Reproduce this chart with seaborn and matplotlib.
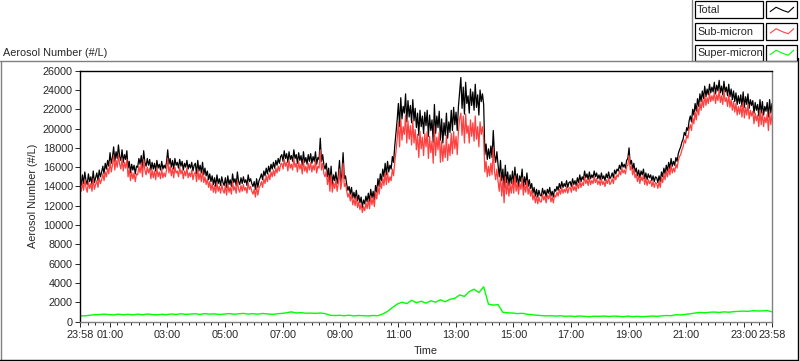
import pandas as pd
import matplotlib
matplotlib.use("Agg")
import matplotlib.pyplot as plt
import matplotlib.dates as mdates
from matplotlib.patches import Rectangle
from matplotlib.lines import Line2D
import seaborn as sns

# Aerosol counts over one day
# total / sub-micron at 2.5-min steps, one row per hour starting 23:58
start = pd.Timestamp("2012-07-01 23:58")
end = pd.Timestamp("2012-07-02 23:58")

total = [
    14700, 14100, 15200, 14300, 15500, 14600, 14200, 15300, 14500, 15000, 14200, 15600, 14400, 14900, 15400, 14600, 15700, 15000, 15500, 16100, 15300, 16400, 15800, 16700,
    16100, 17500, 16400, 17000, 18100, 16600, 17600, 16900, 18300, 17100, 16700, 17800, 16500, 17300, 16800, 17700, 15900, 16600, 15400, 16300, 15700, 16200, 15300, 16100,
    16000, 16900, 16300, 17200, 15900, 17700, 16500, 16100, 16900, 16200, 16800, 15700, 16500, 15800, 16400, 15600, 16700, 15900, 16300, 15700, 16600, 15800, 16200, 15900,
    16500, 17800, 16300, 16900, 16000, 16700, 15800, 16900, 16200, 16500, 15900, 16800, 16100, 16600, 15700, 16400, 16000, 16700, 15800, 16300, 15900, 16500, 15600, 16200,
    16400, 15300, 16700, 15600, 16200, 15400, 16500, 15200, 15900, 15100, 15600, 14700, 15300, 14500, 15100, 14200, 14900, 14000, 15200, 14300, 14800, 14100, 15000, 14400,
    14100, 14900, 13900, 15100, 14200, 14700, 14000, 15300, 14400, 14800, 14100, 15500, 14500, 14200, 14900, 14300, 15000, 14400, 14700, 14100, 15200, 14500, 14800, 14300,
    14000, 14500, 13700, 14800, 13900, 14600, 14900, 15300, 14700, 15600, 15100, 15900, 15300, 16100, 15500, 16300, 15800, 16500, 15900, 16700, 16200, 16900, 16400, 17100,
    17300, 16600, 17700, 16900, 17400, 16500, 17600, 16800, 17200, 16600, 17800, 16900, 17300, 16400, 17500, 16700, 17200, 16200, 17600, 16500, 17000, 16300, 17300, 16600,
    17400, 16400, 17100, 16600, 17600, 16300, 17000, 16800, 19000, 16600, 17300, 16200, 15800, 16400, 15000, 15900, 14300, 16100, 14200, 15200, 14600, 15500, 14300, 15100,
    16700, 14500, 15300, 17500, 14800, 15100, 14200, 13600, 14000, 13200, 13900, 12800, 13400, 12700, 13600, 12500, 13100, 12300, 12900, 11800, 12600, 12200, 13000, 12400,
    13300, 12400, 13700, 12800, 13500, 12600, 14100, 13400, 14800, 14000, 15300, 14600, 15800, 15000, 16400, 15200, 16600, 15500, 16200, 15800, 17100, 16500, 18200, 19500,
    20900, 22600, 20200, 23200, 21000, 22300, 21600, 23600, 20700, 22900, 21200, 22400, 20600, 23000, 20800, 22100, 20100, 21600, 19300, 21900, 20200, 21300, 19500, 21700,
    20300, 21900, 19200, 21400, 19800, 20900, 18600, 22500, 19500, 21300, 20100, 21800, 18800, 21000, 18500, 20600, 19300, 21600, 19000, 20700, 19600, 21900, 19800, 22200,
    20400, 21700, 19800, 22300, 23800, 25300, 22100, 24300, 21500, 24800, 22600, 23400, 21600, 24100, 22400, 23800, 21900, 24600, 22200, 23500, 21400, 24000, 22800, 23600,
    22500, 17300, 18400, 16800, 17900, 16900, 18200, 17000, 19800, 17300, 16500, 17600, 16200, 15000, 16700, 14600, 15800, 13900, 16200, 14400, 15500, 14100, 15200, 14300,
    15600, 14200, 16000, 14400, 15300, 14000, 15100, 14500, 15800, 13900, 15000, 14200, 15400, 14000, 14700, 13800, 14300, 13300, 13900, 13000, 13700, 12900, 13600, 13100,
    13000, 13800, 13200, 13600, 12900, 13700, 13300, 13900, 13000, 13500, 12900, 13700, 13500, 14000, 13600, 14300, 13800, 14500, 13900, 14300, 14000, 14600, 13900, 14400,
    14500, 14000, 14800, 14200, 14600, 14100, 14900, 14400, 15200, 14500, 15000, 14700, 15600, 14900, 15300, 14700, 15500, 14800, 15200, 14900, 15600, 15000, 15400, 14800,
    15200, 14700, 15400, 14800, 15100, 14600, 15300, 14900, 15500, 14800, 15000, 15400, 14900, 15700, 15300, 15800, 15600, 16200, 15800, 16500, 16000, 16300, 15900, 16700,
    16900, 18000, 16300, 16700, 15800, 16400, 15500, 15900, 15100, 15700, 14900, 15600, 15200, 15800, 14800, 15400, 14700, 15300, 14900, 15200, 14600, 15100, 14500, 15000,
    14900, 14400, 15100, 14500, 15500, 15000, 15900, 15300, 16200, 15600, 16500, 15800, 16900, 16100, 16600, 16200, 17000, 16600, 17400, 17800, 18100, 18600, 18900, 19600,
    19300, 20100, 19800, 20800, 21300, 20700, 22000, 21400, 22600, 21800, 23100, 22300, 23600, 22800, 23900, 23100, 24400, 23300, 24100, 23500, 24600, 23700, 24300, 23800,
    24800, 23600, 24500, 23900, 25000, 23700, 24400, 23500, 24900, 23800, 24300, 23400, 24600, 23300, 24100, 23000, 23900, 22800, 23700, 22500, 23400, 22600, 23500, 22300,
    23800, 22200, 23300, 22500, 23600, 22100, 23000, 22400, 22900, 21600, 22700, 21900, 22500, 21300, 23000, 21600, 22800, 21400, 22300, 21800, 22700, 21200, 23000, 21600,
    22600,
]

sub_micron = [
    14000, 13500, 14400, 13600, 14700, 13900, 13400, 14500, 13800, 14300, 13500, 14800, 13700, 14200, 14600, 13900, 14900, 14300, 14700, 15300, 14600, 15500, 15000, 15900,
    15300, 16600, 15500, 16200, 17200, 15700, 16700, 16000, 17300, 16300, 15800, 16900, 15600, 16500, 15900, 16800, 15000, 15800, 14600, 15500, 14800, 15400, 14500, 15300,
    15200, 16100, 15400, 16400, 15000, 16800, 15700, 15200, 16000, 15400, 15900, 14800, 15700, 14900, 15600, 14700, 15900, 15000, 15500, 14800, 15800, 14900, 15400, 15000,
    15700, 16900, 15400, 16100, 15100, 15900, 14900, 16000, 15400, 15600, 15000, 16000, 15300, 15700, 14800, 15600, 15100, 15900, 14900, 15400, 15000, 15700, 14700, 15300,
    15500, 14500, 15800, 14700, 15400, 14500, 15600, 14400, 15000, 14200, 14800, 13900, 14500, 13600, 14300, 13400, 14100, 13300, 14400, 13500, 14000, 13300, 14200, 13600,
    13300, 14100, 13100, 14300, 13400, 13900, 13200, 14500, 13600, 14000, 13300, 14600, 13700, 13400, 14100, 13500, 14200, 13600, 13900, 13300, 14400, 13700, 14000, 13500,
    13200, 13700, 12900, 14000, 13100, 13800, 14100, 14500, 13900, 14800, 14300, 15100, 14500, 15300, 14700, 15500, 15000, 15700, 15100, 15900, 15400, 16100, 15600, 16300,
    16400, 15800, 16800, 16100, 16500, 15600, 16700, 15900, 16300, 15700, 16900, 16000, 16400, 15500, 16600, 15800, 16300, 15300, 16700, 15600, 16100, 15400, 16400, 15700,
    16500, 15500, 16200, 15700, 16700, 15400, 16100, 15900, 17800, 15700, 16400, 15300, 15000, 15600, 14200, 15100, 13500, 15200, 13400, 14400, 13800, 14700, 13500, 14300,
    15800, 13700, 14500, 16400, 14000, 14300, 13500, 12900, 13300, 12500, 13200, 12100, 12700, 12000, 12900, 11800, 12400, 11600, 12200, 11300, 11900, 11500, 12300, 11700,
    12600, 11700, 13000, 12100, 12800, 11900, 13400, 12700, 14000, 13200, 14500, 13800, 14900, 14100, 15400, 14200, 15500, 14400, 15000, 14600, 15800, 15100, 16500, 17600,
    18900, 20700, 18100, 21000, 18800, 20200, 19400, 21400, 18500, 20800, 18900, 20300, 18300, 20800, 18500, 19900, 17800, 19400, 17000, 19700, 17900, 19100, 17200, 19500,
    18100, 19700, 16900, 19200, 17500, 18700, 16400, 20200, 17200, 19100, 17800, 19600, 16500, 18700, 16600, 18300, 17000, 19300, 16700, 18400, 17200, 19500, 17400, 19700,
    17900, 19200, 17300, 19700, 21000, 21600, 19300, 21300, 18500, 21500, 19500, 20300, 18500, 20900, 19200, 20600, 18700, 21300, 18900, 20200, 18100, 20700, 19400, 20200,
    19000, 15500, 16600, 15000, 16100, 15100, 16400, 15200, 18000, 15500, 14700, 15800, 14500, 13500, 15200, 13000, 14600, 12300, 15000, 13200, 14500, 13000, 14200, 13300,
    14700, 13300, 15100, 13500, 14400, 13200, 14300, 13700, 14900, 13100, 14200, 13400, 14600, 13200, 13900, 13000, 13600, 12600, 13200, 12300, 13000, 12200, 12900, 12400,
    12400, 13200, 12600, 13000, 12300, 13100, 12700, 13300, 12400, 12900, 12300, 13100, 12900, 13400, 13000, 13700, 13200, 13900, 13300, 13700, 13400, 14000, 13300, 13800,
    13900, 13400, 14200, 13600, 14000, 13500, 14300, 13800, 14600, 13900, 14400, 14100, 15000, 14300, 14700, 14100, 14900, 14200, 14600, 14300, 15000, 14400, 14800, 14200,
    14600, 14100, 14800, 14200, 14500, 14000, 14700, 14300, 14900, 14200, 14400, 14800, 14300, 15100, 14700, 15200, 15000, 15600, 15200, 15900, 15400, 15700, 15300, 16100,
    16200, 17200, 15700, 16100, 15200, 15800, 14900, 15300, 14500, 15100, 14300, 15000, 14600, 15200, 14200, 14800, 14100, 14700, 14300, 14600, 14000, 14500, 13900, 14400,
    14300, 13800, 14500, 13900, 14900, 14400, 15300, 14700, 15600, 15000, 15900, 15200, 16200, 15400, 15900, 15500, 16300, 15900, 16700, 17100, 17300, 17800, 18100, 18800,
    18500, 19300, 19000, 19900, 20400, 19800, 21100, 20500, 21700, 20900, 22200, 21400, 22700, 21900, 23000, 22200, 23500, 22400, 23200, 22600, 23700, 22800, 23400, 22900,
    23800, 22600, 23500, 22900, 24000, 22700, 23400, 22500, 23900, 22800, 23200, 22300, 23500, 22200, 23000, 21900, 22800, 21700, 22600, 21400, 22300, 21500, 22400, 21200,
    22700, 21100, 22200, 21400, 22500, 21000, 21900, 21300, 21800, 20500, 21600, 20800, 21400, 20200, 21900, 20400, 21700, 20200, 21200, 20600, 21500, 19800, 21800, 20400,
    21500,
]

# super-micron read at 10-min steps
super_micron = [
    600, 580, 650, 700, 720, 760,
    720, 680, 760, 700, 740, 690,
    760, 700, 780, 720, 690, 750,
    710, 780, 730, 800, 740, 770,
    800, 740, 820, 760, 790, 730,
    780, 820, 750, 800, 840, 770,
    810, 760, 830, 780, 740, 800,
    840, 900, 1000, 880, 920, 860,
    870, 840, 880, 820, 650, 620,
    640, 600, 650, 580, 620, 600,
    580, 620, 600, 780, 1050, 1450,
    1800, 2000, 1850, 2200, 1950, 2100,
    1900, 2150, 2000, 2250, 2050, 2300,
    2400, 2750, 2600, 3100, 3350, 3000,
    3600, 1800, 1700, 1750, 950, 900,
    880, 820, 850, 760, 700, 650,
    620, 580, 600, 560, 590, 540,
    560, 520, 570, 540, 500, 550,
    530, 570, 520, 560, 540, 500,
    560, 510, 540, 500, 530, 560,
    540, 580, 620, 600, 700, 680,
    740, 800, 880, 940, 900, 960,
    980, 940, 1000, 960, 1020, 1050,
    1080, 1050, 1120, 1090, 1100, 1140,
    1000,
]

t_fine = pd.date_range(start, periods=len(total), freq="150s")
t10 = pd.date_range(start, periods=len(super_micron), freq="10min")

series_names = ["Total", "Sub-micron", "Super-micron"]
series_colors = ["#000000", "#FF4040", "#00FF00"]

W, H = 800, 361
sns.set_style("white")
plt.rcParams["font.family"] = ["Liberation Sans", "DejaVu Sans"]
fs = 7.8

fig = plt.figure(figsize=(W / 100, H / 100), dpi=100)
ax = fig.add_axes([80 / W, 1 - 321.5 / H, (772 - 80) / W, (321.5 - 70.7) / H])

sns.lineplot(x=t_fine, y=total, color=series_colors[0], lw=0.9, estimator=None, ax=ax)
sns.lineplot(x=t_fine, y=sub_micron, color=series_colors[1], lw=0.9, estimator=None, ax=ax)
sns.lineplot(x=t10, y=super_micron, color=series_colors[2], lw=1.0, estimator=None, ax=ax)

ax.set_xlim(start, end)
ax.set_ylim(0, 26000)
ax.set_yticks(range(0, 26001, 2000))
ax.set_xlabel("")
ax.set_ylabel("")

majors = [start] + list(pd.date_range("2012-07-02 01:00", "2012-07-02 23:00", freq="2h")) + [end]
minors = [t for t in pd.date_range("2012-07-02 00:15", "2012-07-02 23:45", freq="15min") if t not in majors]
ax.set_xticks(majors)
ax.set_xticks(minors, minor=True)
ax.xaxis.set_major_formatter(mdates.DateFormatter("%H:%M"))

ax.tick_params(axis="y", direction="out", length=3.6, width=0.7, pad=1.5, labelsize=fs, left=True)
ax.tick_params(axis="x", which="major", direction="out", length=3.8, width=0.7, pad=2, labelsize=fs, bottom=True)
ax.tick_params(axis="x", which="minor", direction="out", length=2.2, width=0.7, bottom=True)

for side in ["top", "left"]:
    ax.spines[side].set_color("black")
    ax.spines[side].set_linewidth(1.0)
for side in ["right", "bottom"]:
    ax.spines[side].set_color("#808080")
    ax.spines[side].set_linewidth(1.0)

# texts
fig.text(3 / W, 1 - 53 / H, "Aerosol Number (#/L)", ha="left", va="center", fontsize=fs)
fig.text(33 / W, 1 - 196 / H, "Aerosol Number (#/L)", ha="center", va="center", rotation=90, fontsize=fs)
fig.text(426 / W, 1 - 351 / H, "Time", ha="center", va="center", fontsize=fs)


def px(x, y):
    return x / W, 1 - y / H


def fline(x0, y0, x1, y1, color, lw=1.0):
    (a, b), (c, d) = px(x0, y0), px(x1, y1)
    fig.add_artist(Line2D([a, c], [b, d], color=color, lw=lw, transform=fig.transFigure))


# panel frame
fline(0, 61, 797, 61, "#808080")
fline(0.5, 61, 0.5, 360, "#808080")
fline(0, 359.5, 798, 359.5, "black")
fline(798, 58, 798, 360, "black")
fline(692, 0, 692, 61, "#808080")

# legend
zig = [(0.08, 0.35), (0.3, 0.7), (0.55, 0.45), (0.75, 0.3), (0.95, 0.7)]
for i, (name, col) in enumerate(zip(series_names, series_colors)):
    y0 = 1.5 + i * 21.5
    h = 16.5
    x0, yb = px(695, y0 + h)
    fig.add_artist(Rectangle((x0, yb), 68 / W, h / H, transform=fig.transFigure,
                             facecolor="white", edgecolor="black", lw=0.9))
    tx, ty = px(697, y0 + h / 2 + 0.5)
    fig.text(tx, ty, name, ha="left", va="center", fontsize=fs)
    sx, _ = px(766, 0)
    fig.add_artist(Rectangle((sx, yb), 31 / W, h / H, transform=fig.transFigure,
                             facecolor="white", edgecolor="black", lw=0.9))
    xs = [sx + (2 + f * 27) / W for f, _ in zig]
    ys = [yb + (2 + g * 12.5) / H for _, g in zig]
    fig.add_artist(Line2D(xs, ys, color=col, lw=0.8, transform=fig.transFigure))

plt.savefig("out.png", dpi=100)
